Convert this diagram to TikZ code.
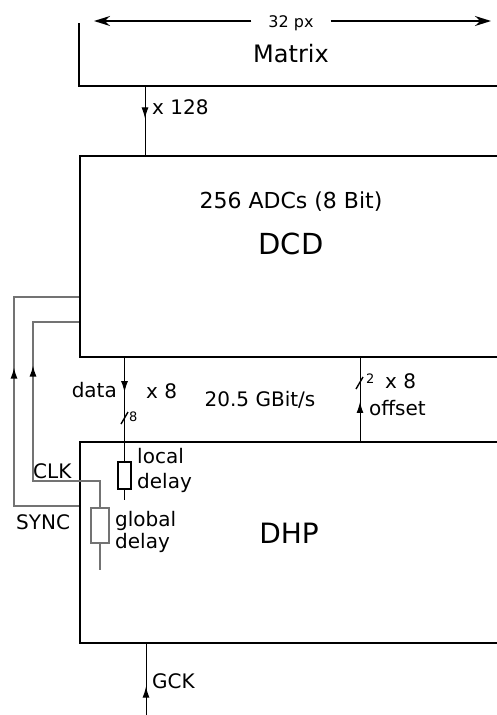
\documentclass[tikz,border=0pt]{standalone}
\usepackage{fontspec}
\setmainfont{DejaVu Sans}
\usetikzlibrary{arrows.meta,positioning,calc,decorations.markings}

\begin{document}
\begin{tikzpicture}[x=1pt, y=-1pt,
  box/.style={draw, line width=2pt, anchor=north west, minimum width=480pt,
    inner sep=0pt},
  sig/.style={line width=1pt},
  fb/.style={draw=black!55, line width=1.4pt},
  dim/.style={-{Stealth[length=16pt,width=10pt]}, line width=1.6pt},
  midarrow/.style={postaction={decorate}, decoration={markings,
    mark=at position #1 with {\arrow[black]{Latex[length=11pt,width=7pt]}}}},
  txt/.style={font=\fontsize{20}{24}\selectfont, inner sep=0pt},
  small/.style={font=\fontsize{13}{15}\selectfont, inner sep=0pt},
  res/.style={draw, line width=1.3pt, fill=white, inner sep=0pt}
]
\useasboundingbox (0,0) rectangle (497,715);
\clip (0,0) rectangle (497,715);

% Matrix
\draw[line width=2pt] (79,23) |- (510,86);
\node[font=\fontsize{24}{28}\selectfont, inner sep=0pt, anchor=base] (mtx)
  at (291,62) {Matrix};
\node[font=\fontsize{16}{19}\selectfont, inner ysep=0pt, inner xsep=17pt,
  anchor=base] (px) at (291,27) {32 px};
\coordinate (dl) at (94,21);
\coordinate (dr) at (491,21);
\draw[dim] (px.west |- dl) -- (dl);
\draw[dim] (px.east |- dr) -- (dr);

% DCD
\node[box, minimum height=201pt] (dcd) at (79,155) {};
\node[font=\fontsize{22}{26}\selectfont, inner sep=0pt, anchor=base] (adc)
  at (291,208) {256 ADCs (8 Bit)};
\node[font=\fontsize{29}{34}\selectfont, inner sep=0pt, anchor=base] (dcdlbl)
  at (291,254) {DCD};

% DHP
\node[box, minimum height=201pt] (dhp) at (79,441) {};
\node[font=\fontsize{28}{33}\selectfont, inner sep=0pt, anchor=base] (dhplbl)
  at (289,543) {DHP};

% Matrix -> DCD
\coordinate (m128) at (145,86);
\draw[sig, midarrow=0.47] (m128) -- (m128 |- dcd.north);
\node[txt, anchor=base west] (n128) at (152,114) {x 128};

% data with local delay
\node[res, minimum width=13pt, minimum height=27pt] (ldel) at (124.5,475.5) {};
\coordinate (dend) at (124.5,500);
\draw[sig, midarrow=0.33] (ldel.north |- dcd.south) -- (ldel.north);
\draw[sig] (ldel.south) -- (dend);
\draw[line width=1.4pt] (121,424) -- (128,412);
\node[small, anchor=base west] (n8) at (129,421) {8};
\node[txt, anchor=base east] (data) at (117,397) {data};
\node[txt, anchor=base west] (x8l) at (146,398) {x 8};
\node[txt, anchor=base] (rate) at (260,406) {20.5 GBit/s};

% offset
\coordinate (off) at (360,441);
\draw[sig, midarrow=0.47] (off) -- (off |- dcd.south);
\draw[line width=1.4pt] (356,389) -- (363,377);
\node[small, anchor=base west] (n2) at (366,383) {2};
\node[txt, anchor=base west] (x8r) at (385,388) {x 8};
\node[txt, anchor=base west] (offl) at (369,415) {offset};

% GCK
\coordinate (gck) at (146,715);
\draw[sig, midarrow=0.40] (gck) -- (gck |- dhp.south);
\node[txt, anchor=base west] (gckl) at (152,688) {GCK};

% SYNC
\draw[fb, midarrow=0.60] (79,506) -- (14,506) -- (14,297) -- (79,297);
\node[txt, anchor=base west] (syncl) at (16,529) {SYNC};

% CLK with global delay
\node[res, draw=black!55, minimum width=18pt, minimum height=35pt] (gdel)
  at (100,525.5) {};
\coordinate (gend) at (100,570);
\draw[fb, midarrow=0.70] (gdel.north) -- (100,481) -- (33,481) -- (33,322)
  -- (79,322);
\draw[fb] (gdel.south) -- (gend);
\node[txt, anchor=base west] (clkl) at (33,478) {CLK};

% delay labels
\node[txt, anchor=base west] (loc1) at (137,463) {local};
\node[txt, anchor=base west] (loc2) at (137,488) {delay};
\node[txt, anchor=base west] (glo1) at (115,526) {global};
\node[txt, anchor=base west] (glo2) at (115,548) {delay};

\end{tikzpicture}
\end{document}
